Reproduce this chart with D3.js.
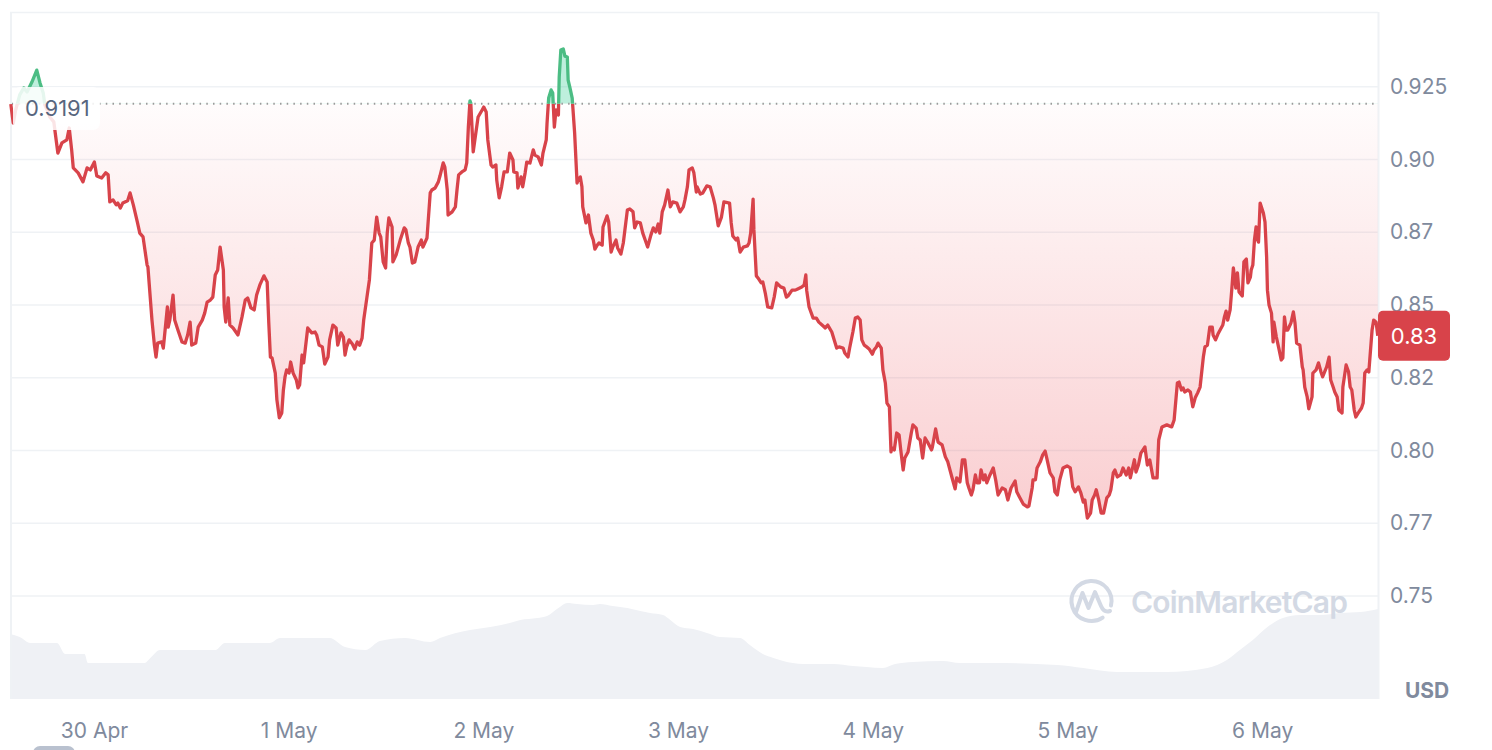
<!DOCTYPE html>
<html>
<head>
<meta charset="utf-8">
<script src="https://cdn.jsdelivr.net/npm/d3@7"></script>
<style>
  html, body { margin:0; padding:0; background:#fff; }
  svg { display:block; font-family: Inter, "Noto Sans", sans-serif; }
</style>
</head>
<body>
<svg id="chart" width="1492" height="750"></svg>
<script>
// ---------------- DATA ----------------
// hours since 29 Apr 13:39 UTC, price in USD
const startTime = Date.UTC(2024, 3, 29, 13, 39);
const spanHours = 168.63;
const refPrice = 0.9191;

const priceSeries = [
[0.1,0.9190],[0.4,0.9125],[0.7,0.9170],[1.2,0.9222],[1.7,0.9246],[2.1,0.9232],[2.7,0.9266],[3.3,0.9307],[3.7,0.9263],[4.1,0.9228],
[4.3,0.9187],[4.7,0.9163],[4.9,0.9146],[5.4,0.9129],[5.9,0.9022],[6.4,0.9057],[7.0,0.9067],[7.3,0.9108],[7.6,0.9033],[7.8,0.8971],
[8.4,0.8954],[9.0,0.8923],[9.5,0.8971],[9.9,0.8964],[10.4,0.8991],[10.7,0.8943],[11.3,0.8936],[11.8,0.8954],[12.1,0.8947],[12.3,0.8854],
[12.7,0.8861],[13.1,0.8844],[13.3,0.8850],[13.6,0.8833],[13.9,0.8850],[14.5,0.8858],[14.8,0.8885],[15.2,0.8844],[15.7,0.8785],[16.0,0.8747],
[16.4,0.8734],[16.9,0.8637],[17.0,0.8631],[17.5,0.8448],[17.8,0.8362],[18.0,0.8321],[18.2,0.8369],[18.7,0.8373],[18.9,0.8352],[19.4,0.8493],
[19.5,0.8424],[19.7,0.8448],[20.1,0.8534],[20.3,0.8448],[20.7,0.8414],[21.2,0.8373],[21.6,0.8369],[21.9,0.8397],[22.2,0.8441],[22.4,0.8362],
[22.9,0.8369],[23.2,0.8424],[23.7,0.8448],[24.0,0.8472],[24.3,0.8510],[24.7,0.8517],[25.0,0.8527],[25.3,0.8603],[25.6,0.8620],[25.9,0.8699],
[26.3,0.8620],[26.4,0.8493],[26.6,0.8441],[26.9,0.8524],[27.1,0.8431],[27.5,0.8421],[28.1,0.8397],[28.6,0.8459],[29.0,0.8517],[29.3,0.8524],
[29.7,0.8490],[30.1,0.8483],[30.4,0.8534],[30.8,0.8569],[31.3,0.8600],[31.7,0.8579],[31.9,0.8438],[32.1,0.8321],[32.3,0.8318],[32.7,0.8266],
[32.9,0.8174],[33.2,0.8112],[33.5,0.8129],[33.7,0.8208],[33.9,0.8253],[34.1,0.8277],[34.4,0.8266],[34.6,0.8304],[34.9,0.8266],[35.3,0.8242],
[35.5,0.8215],[35.7,0.8225],[36.0,0.8328],[36.2,0.8301],[36.7,0.8421],[37.2,0.8404],[37.6,0.8407],[37.8,0.8397],[38.1,0.8362],[38.5,0.8356],
[38.8,0.8297],[39.2,0.8321],[39.4,0.8380],[39.8,0.8431],[40.2,0.8421],[40.4,0.8362],[40.8,0.8404],[41.1,0.8390],[41.3,0.8328],[41.5,0.8356],
[41.8,0.8380],[42.2,0.8366],[42.5,0.8349],[42.8,0.8373],[43.1,0.8362],[43.4,0.8386],[43.6,0.8448],[44.0,0.8527],[44.3,0.8586],[44.6,0.8713],
[44.9,0.8723],[45.2,0.8802],[45.5,0.8747],[45.7,0.8734],[46.0,0.8648],[46.3,0.8627],[46.5,0.8747],[46.7,0.8799],[47.1,0.8768],[47.2,0.8648],
[47.6,0.8672],[48.1,0.8723],[48.6,0.8765],[48.8,0.8758],[49.1,0.8713],[49.3,0.8699],[49.6,0.8644],[49.9,0.8648],[50.3,0.8699],[50.7,0.8723],
[50.9,0.8699],[51.4,0.8730],[51.8,0.8885],[52.0,0.8895],[52.4,0.8902],[52.8,0.8923],[53.0,0.8943],[53.4,0.8988],[53.6,0.8974],[53.9,0.8895],
[54.0,0.8809],[54.5,0.8820],[54.9,0.8837],[55.1,0.8895],[55.3,0.8947],[55.7,0.8957],[56.1,0.8964],[56.3,0.8988],[56.5,0.9111],[56.7,0.9201],
[56.8,0.9194],[57.1,0.9026],[57.3,0.9067],[57.7,0.9146],[58.2,0.9170],[58.4,0.9180],[58.7,0.9163],[58.9,0.9067],[59.3,0.8981],[59.5,0.8974],
[59.9,0.8981],[60.0,0.8929],[60.3,0.8868],[60.6,0.8906],[60.9,0.8957],[61.3,0.8957],[61.6,0.9022],[62.0,0.8998],[62.1,0.8957],[62.5,0.8954],
[62.6,0.8902],[63.0,0.8940],[63.2,0.8906],[63.5,0.8954],[63.7,0.8991],[64.1,0.8988],[64.5,0.9033],[64.7,0.9015],[65.1,0.9009],[65.5,0.8981],
[65.7,0.9022],[66.1,0.9067],[66.2,0.9125],[66.4,0.9211],[66.7,0.9239],[66.9,0.9228],[67.1,0.9111],[67.3,0.9170],[67.6,0.9153],[67.7,0.9283],
[67.9,0.9376],[68.2,0.9380],[68.4,0.9355],[68.7,0.9352],[68.8,0.9273],[69.0,0.9249],[69.3,0.9211],[69.6,0.9091],[69.9,0.8919],[70.0,0.8929],
[70.3,0.8940],[70.5,0.8906],[70.6,0.8837],[71.0,0.8782],[71.3,0.8809],[71.6,0.8747],[71.9,0.8723],[72.1,0.8692],[72.4,0.8706],[72.6,0.8713],
[73.0,0.8706],[73.1,0.8768],[73.6,0.8806],[73.8,0.8785],[74.1,0.8682],[74.3,0.8699],[74.7,0.8723],[74.9,0.8696],[75.3,0.8675],[75.6,0.8713],
[76.1,0.8826],[76.4,0.8830],[76.8,0.8820],[77.0,0.8765],[77.3,0.8785],[77.7,0.8782],[78.0,0.8747],[78.3,0.8723],[78.6,0.8699],[79.0,0.8740],
[79.3,0.8765],[79.6,0.8751],[79.9,0.8778],[80.1,0.8747],[80.4,0.8820],[80.7,0.8844],[81.1,0.8895],[81.4,0.8837],[81.7,0.8854],[82.2,0.8850],
[82.6,0.8820],[83.0,0.8837],[83.2,0.8861],[83.5,0.8906],[83.7,0.8964],[84.1,0.8971],[84.3,0.8954],[84.6,0.8888],[84.7,0.8906],[85.1,0.8881],
[85.4,0.8885],[85.9,0.8909],[86.3,0.8906],[86.7,0.8868],[86.9,0.8844],[87.3,0.8772],[87.7,0.8802],[88.0,0.8854],[88.7,0.8850],[88.9,0.8782],
[89.1,0.8737],[89.5,0.8723],[89.7,0.8730],[90.0,0.8682],[90.4,0.8699],[90.9,0.8703],[91.1,0.8713],[91.3,0.8747],[91.6,0.8864],[91.7,0.8758],
[92.0,0.8600],[92.2,0.8593],[92.6,0.8576],[92.8,0.8579],[93.1,0.8541],[93.4,0.8493],[93.9,0.8490],[94.2,0.8527],[94.5,0.8576],[95.0,0.8562],
[95.4,0.8558],[95.7,0.8527],[95.9,0.8531],[96.4,0.8551],[96.8,0.8551],[97.1,0.8555],[97.6,0.8562],[97.9,0.8569],[98.1,0.8603],[98.2,0.8551],
[98.5,0.8493],[99.0,0.8455],[99.4,0.8455],[99.7,0.8441],[100.1,0.8431],[100.5,0.8421],[100.8,0.8431],[101.3,0.8407],[101.6,0.8380],[101.9,0.8352],
[102.2,0.8356],[102.7,0.8352],[102.9,0.8335],[103.3,0.8321],[103.5,0.8352],[103.9,0.8407],[104.2,0.8455],[104.5,0.8459],[104.8,0.8448],[105.0,0.8380],
[105.3,0.8362],[105.6,0.8356],[105.9,0.8349],[106.3,0.8331],[106.5,0.8345],[106.8,0.8356],[107.0,0.8369],[107.4,0.8352],[107.6,0.8277],[107.9,0.8232],
[108.1,0.8163],[108.4,0.8150],[108.6,0.7995],[108.7,0.8009],[109.0,0.8002],[109.3,0.8060],[109.6,0.8053],[109.8,0.8002],[110.1,0.7933],[110.3,0.7974],
[110.7,0.7995],[111.1,0.8060],[111.3,0.8088],[111.7,0.8077],[111.9,0.8043],[112.2,0.8036],[112.5,0.7974],[112.8,0.8043],[113.1,0.8029],[113.6,0.8002],
[113.7,0.8012],[114.1,0.8074],[114.4,0.8029],[114.9,0.8019],[115.3,0.7978],[115.6,0.7961],[116.1,0.7909],[116.5,0.7868],[116.7,0.7906],[117.1,0.7892],
[117.4,0.7968],[117.7,0.7968],[118.0,0.7889],[118.2,0.7871],[118.5,0.7847],[118.7,0.7865],[119.0,0.7916],[119.2,0.7889],[119.5,0.7889],[119.7,0.7933],
[120.0,0.7899],[120.2,0.7916],[120.4,0.7889],[120.8,0.7916],[121.2,0.7940],[121.5,0.7899],[121.8,0.7847],[122.3,0.7871],[122.7,0.7865],[123.0,0.7830],
[123.4,0.7871],[123.9,0.7895],[124.1,0.7858],[124.5,0.7837],[124.9,0.7816],[125.4,0.7806],[125.6,0.7809],[126.0,0.7871],[126.1,0.7899],[126.4,0.7899],
[126.6,0.7940],[127.0,0.7961],[127.3,0.7985],[127.6,0.7998],[127.8,0.7974],[128.2,0.7923],[128.6,0.7906],[128.8,0.7858],[129.1,0.7847],[129.4,0.7899],
[129.8,0.7940],[130.3,0.7947],[130.7,0.7940],[131.0,0.7875],[131.3,0.7858],[131.7,0.7875],[132.0,0.7854],[132.3,0.7823],[132.5,0.7830],[132.8,0.7768],
[133.2,0.7785],[133.4,0.7830],[133.7,0.7847],[133.9,0.7865],[134.2,0.7830],[134.5,0.7785],[134.8,0.7785],[135.2,0.7837],[135.5,0.7847],[135.7,0.7865],
[136.0,0.7923],[136.2,0.7933],[136.5,0.7909],[136.9,0.7916],[137.2,0.7940],[137.6,0.7916],[137.9,0.7940],[138.1,0.7906],[138.6,0.7968],[138.8,0.7926],
[139.1,0.7950],[139.4,0.7991],[139.9,0.8012],[140.2,0.7950],[140.5,0.7967],[140.9,0.7906],[141.4,0.7906],[141.6,0.8036],[142.0,0.8081],[142.6,0.8088],
[143.2,0.8081],[143.5,0.8105],[143.9,0.8232],[144.1,0.8235],[144.4,0.8208],[144.6,0.8215],[144.8,0.8201],[145.2,0.8208],[145.5,0.8201],[145.8,0.8150],
[146.1,0.8181],[146.4,0.8198],[146.7,0.8218],[147.1,0.8321],[147.3,0.8356],[147.6,0.8362],[147.9,0.8424],[148.2,0.8424],[148.3,0.8397],[148.6,0.8380],
[148.9,0.8400],[149.5,0.8431],[149.7,0.8459],[149.9,0.8479],[150.1,0.8448],[150.4,0.8483],[150.6,0.8551],[150.8,0.8627],[151.0,0.8586],[151.1,0.8558],
[151.3,0.8610],[151.5,0.8545],[151.9,0.8531],[152.1,0.8648],[152.4,0.8658],[152.6,0.8576],[152.9,0.8596],[153.0,0.8620],[153.2,0.8637],[153.4,0.8723],
[153.6,0.8768],[153.7,0.8730],[153.9,0.8716],[154.1,0.8850],[154.5,0.8816],[154.7,0.8785],[154.9,0.8665],[155.0,0.8551],[155.2,0.8500],[155.5,0.8472],
[155.7,0.8373],[155.8,0.8441],[156.1,0.8390],[156.4,0.8352],[156.7,0.8311],[156.9,0.8318],[157.1,0.8459],[157.3,0.8414],[157.5,0.8414],[157.9,0.8438],
[158.2,0.8476],[158.4,0.8438],[158.6,0.8369],[159.0,0.8362],[159.3,0.8287],[159.4,0.8277],[159.6,0.8218],[159.9,0.8184],[160.1,0.8143],[160.5,0.8184],
[160.6,0.8266],[161.0,0.8277],[161.3,0.8301],[161.6,0.8270],[161.8,0.8253],[162.3,0.8287],[162.6,0.8321],[162.8,0.8242],[163.1,0.8218],[163.3,0.8201],
[163.6,0.8184],[163.8,0.8139],[164.2,0.8129],[164.3,0.8218],[164.7,0.8294],[165.0,0.8270],[165.2,0.8218],[165.4,0.8208],[165.7,0.8139],[165.9,0.8115],
[166.2,0.8129],[166.6,0.8146],[166.8,0.8163],[167.0,0.8266],[167.3,0.8277],[167.5,0.8270],[167.9,0.8414],[168.1,0.8448],[168.4,0.8441],[168.6,0.8394]
];

// volume (relative units), hours since start
const volumeSeries = [
[0,65],[1.2,62],[2.5,56],[5.8,56],[6.8,45],[9.2,45],[9.6,36],[16.6,36],[17.3,41],[18.5,49],
[25.3,49],[26.5,56],[32.0,56],[33.3,61],[39.4,61],[41.3,52],[43.8,49],[45.6,58],[48.7,61],[51.8,57],
[53.0,61],[56.7,69],[59.2,72],[61.6,76],[62.9,79],[65.0,81],[66.2,83],[67.6,91],[68.7,96],[69.9,95],
[71.9,94],[72.7,95],[74.3,93],[76.1,91],[77.7,88],[78.9,86],[80.5,84],[81.4,79],[82.6,72],[84.2,70],
[85.9,66],[87.5,62],[90.0,61],[91.2,54],[92.8,45],[94.1,41],[95.3,38],[96.5,36],[97.8,35],[101.5,35],
[103.9,33],[105.6,32],[107.6,31],[109.1,35],[111.3,37],[115.0,38],[117.1,36],[120.8,36],[129.1,34],[132.3,31],
[136.5,27],[142.6,27],[147.6,31],[150.0,39],[151.6,49],[153.2,59],[155.0,72],[156.9,81],[159.0,84],[161.5,84],
[164.0,86],[166.5,87],[168.63,90]
];

const yTickValues = [0.75, 0.775, 0.8, 0.825, 0.85, 0.875, 0.9, 0.925];
const yTickLabels = ["0.75", "0.77", "0.80", "0.82", "0.85", "0.87", "0.90", "0.925"];

// ---------------- CHART ----------------
const RED = "#d8434a", GREEN = "#4cbd84", AXIS = "#808a9d";
const svg = d3.select("#chart");
const toDate = h => new Date(startTime + h * 3600e3);

const x = d3.scaleUtc().domain([toDate(0), toDate(spanHours)]).range([10, 1378]);
const y = d3.scaleLinear().domain([0.75, 0.925]).range([596, 86.7]);
const yVol = d3.scaleLinear().domain([0, 104]).range([699, 595]);
const yBase = y(refPrice);

const defs = svg.append("defs");
const grad = defs.append("linearGradient").attr("id", "redGrad")
  .attr("gradientUnits", "userSpaceOnUse").attr("x1", 0).attr("x2", 0)
  .attr("y1", yBase).attr("y2", y(0.775));
grad.append("stop").attr("offset", 0).attr("stop-color", "rgb(234,57,67)").attr("stop-opacity", 0.015);
grad.append("stop").attr("offset", 1).attr("stop-color", "rgb(234,57,67)").attr("stop-opacity", 0.25);
defs.append("clipPath").attr("id", "above").append("rect")
  .attr("x", 0).attr("y", 0).attr("width", 1378).attr("height", yBase);
defs.append("clipPath").attr("id", "below").append("rect")
  .attr("x", 0).attr("y", yBase).attr("width", 1378).attr("height", 750 - yBase);

// volume
svg.append("path").datum(volumeSeries)
  .attr("fill", "#eff1f5")
  .attr("d", d3.area().curve(d3.curveMonotoneX)
    .x(d => x(toDate(d[0]))).y0(yVol(0)).y1(d => yVol(d[1])));

// grid
svg.append("g").selectAll("line").data(yTickValues).join("line")
  .attr("x1", 10).attr("x2", 1378)
  .attr("y1", d => y(d)).attr("y2", d => y(d))
  .attr("stroke", "#eff2f5").attr("stroke-width", 1.5);
// frame
svg.append("line").attr("x1", 10).attr("x2", 1378).attr("y1", 12.5).attr("y2", 12.5)
  .attr("stroke", "#eff2f5").attr("stroke-width", 1.5);
svg.append("line").attr("x1", 11).attr("x2", 11).attr("y1", 12).attr("y2", 699)
  .attr("stroke", "#eff2f5").attr("stroke-width", 2);
svg.append("line").attr("x1", 1378.5).attr("x2", 1378.5).attr("y1", 12).attr("y2", 699)
  .attr("stroke", "#eff2f5").attr("stroke-width", 2);

// watermark
const wm = svg.append("g").attr("fill", "none").attr("stroke", "#d3d9e4").attr("stroke-width", 4)
  .attr("stroke-linecap", "round").attr("stroke-linejoin", "round");
wm.append("path").attr("d", d3.arc()({innerRadius: 20, outerRadius: 20, startAngle: 2.55, endAngle: 2.55 + 2 * Math.PI - 0.75}))
  .attr("transform", "translate(1091.5,601)");
wm.append("path").attr("d", "M1076,612 L1082.5,593 L1088.5,608 L1095,592 L1101,606 Q1104,613 1110,611");
svg.append("text").attr("x", 1131).attr("y", 613).attr("font-size", 30).attr("font-weight", 600)
  .attr("fill", "#d3d9e4").attr("textLength", 217).text("CoinMarketCap");

// areas
const area = d3.area().x(d => x(toDate(d[0]))).y0(yBase).y1(d => y(d[1]));
svg.append("path").datum(priceSeries).attr("d", area)
  .attr("fill", "url(#redGrad)").attr("clip-path", "url(#below)");
svg.append("path").datum(priceSeries).attr("d", area)
  .attr("fill", "rgba(22,199,132,0.28)").attr("clip-path", "url(#above)");

// reference dotted line
svg.append("line").attr("x1", 12).attr("x2", 1378).attr("y1", yBase).attr("y2", yBase)
  .attr("stroke", "#9a9a9a").attr("stroke-width", 2).attr("stroke-dasharray", "1.5,5.2");

// lines
const line = d3.line().x(d => x(toDate(d[0]))).y(d => y(d[1]));
svg.append("path").datum(priceSeries).attr("d", line).attr("fill", "none")
  .attr("stroke", RED).attr("stroke-width", 3.3).attr("stroke-linejoin", "round")
  .attr("clip-path", "url(#below)");
svg.append("path").datum(priceSeries).attr("d", line).attr("fill", "none")
  .attr("stroke", GREEN).attr("stroke-width", 3.3).attr("stroke-linejoin", "round")
  .attr("clip-path", "url(#above)");

// reference label
svg.append("rect").attr("x", 13).attr("y", 87).attr("width", 87).attr("height", 43).attr("rx", 7)
  .attr("fill", "rgba(255,255,255,0.86)");
svg.append("text").attr("x", 25).attr("y", 108.5).attr("dy", "0.36em")
  .attr("font-size", 22).attr("fill", "#58667e").text(refPrice.toFixed(4));

// y axis
const yAxis = svg.append("g").attr("transform", "translate(1378,0)")
  .call(d3.axisRight(y).tickValues(yTickValues).tickSize(0).tickPadding(12)
    .tickFormat((d, i) => yTickLabels[i]));
yAxis.select(".domain").remove();
yAxis.selectAll("text").attr("font-size", 21).attr("fill", AXIS).attr("font-family", "Inter");

// x axis
const xAxis = svg.append("g").attr("transform", "translate(0,723)")
  .call(d3.axisBottom(x).ticks(d3.utcDay.every(1)).tickSize(0).tickPadding(0)
    .tickFormat(d3.utcFormat("%-d %b")));
xAxis.select(".domain").remove();
xAxis.selectAll("text").attr("font-size", 21).attr("fill", AXIS).attr("font-family", "Inter");

// USD label
svg.append("text").attr("x", 1405).attr("y", 698).attr("font-size", 21).attr("font-weight", 700)
  .attr("fill", AXIS).text("USD");

// last price badge
const last = priceSeries[priceSeries.length - 1];
const ly = y(last[1]);
svg.append("rect").attr("x", 1378).attr("y", ly - 25).attr("width", 72).attr("height", 50).attr("rx", 5)
  .attr("fill", RED);
svg.append("text").attr("x", 1414).attr("y", ly).attr("dy", "0.36em").attr("text-anchor", "middle")
  .attr("font-size", 22).attr("fill", "#fff").text((Math.floor(last[1] * 100) / 100).toFixed(2));

// bottom-left control stub
svg.append("rect").attr("x", 33).attr("y", 746).attr("width", 42).attr("height", 14).attr("rx", 7)
  .attr("fill", "#b9c1cf");
</script>
</body>
</html>
